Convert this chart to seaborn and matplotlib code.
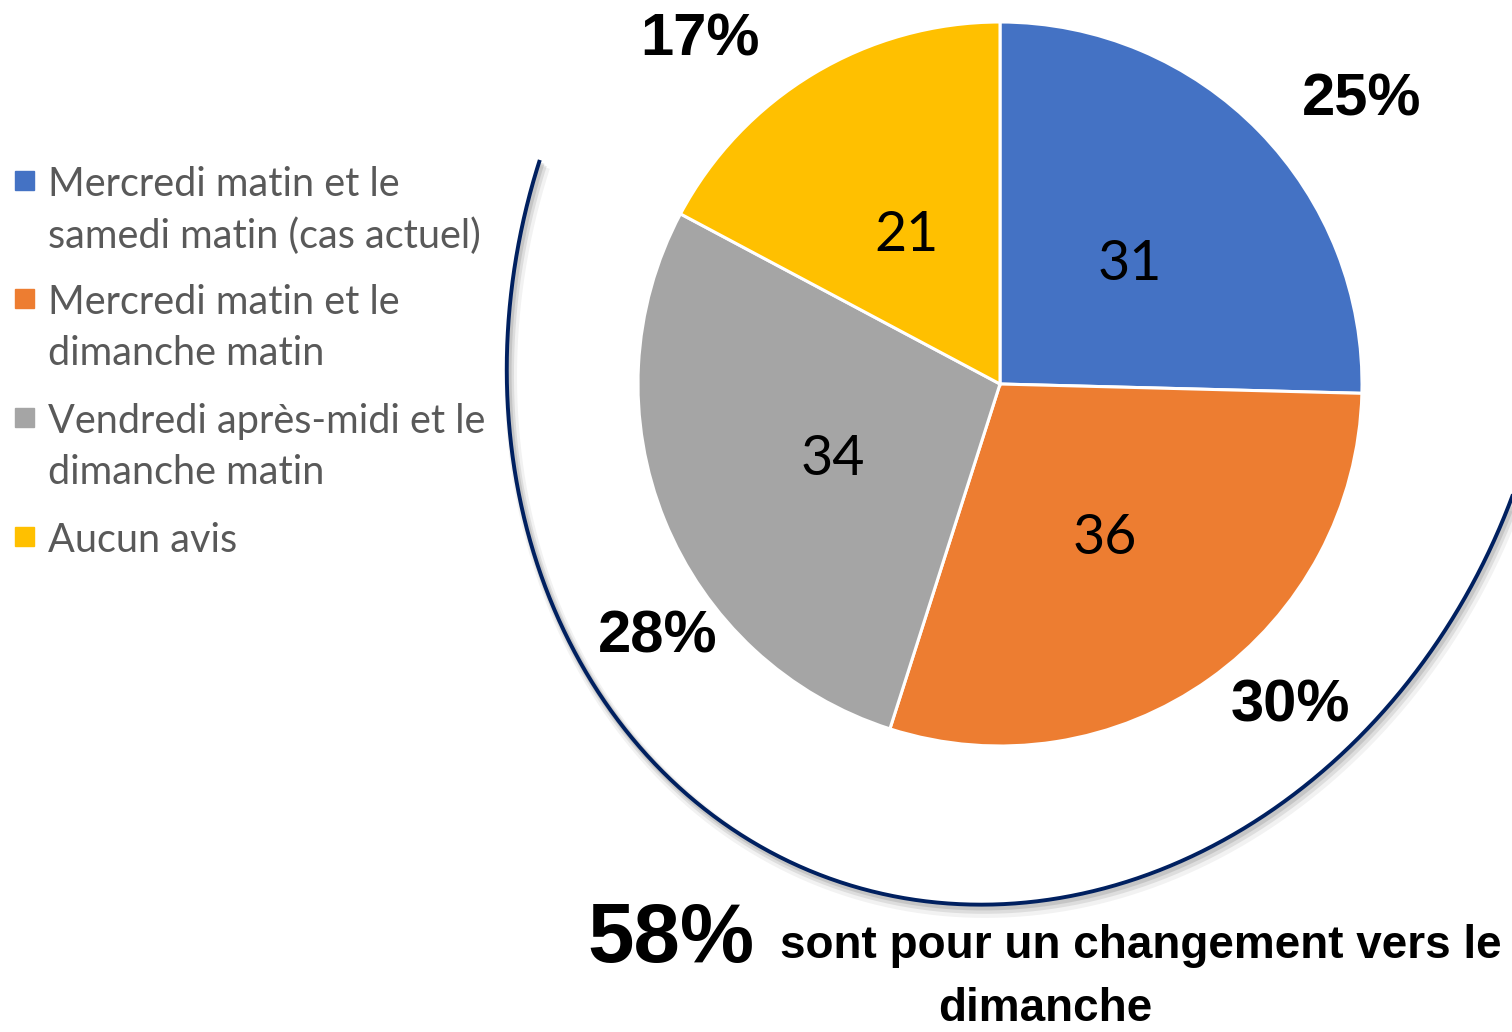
import numpy as np
import seaborn as sns
import matplotlib.pyplot as plt
from matplotlib.patches import Rectangle

# Données
categories = ["Mercredi matin et le\nsamedi matin (cas actuel)",
              "Mercredi matin et le\ndimanche matin",
              "Vendredi après-midi et le\ndimanche matin",
              "Aucun avis"]
valeurs = [31, 36, 34, 21]
couleurs = ["#4472C4", "#ED7D31", "#A5A5A5", "#FFC000"]

total = sum(valeurs)
pourcents = [round(v / total * 100) for v in valeurs]
pour_dimanche = pourcents[1] + pourcents[2]

sns.set_theme(style="white")
plt.rcParams['font.family'] = ['Lato', 'DejaVu Sans']
gras = ['Liberation Sans', 'DejaVu Sans']

fig = plt.figure(figsize=(15.12, 10.32), dpi=100)
ax = fig.add_axes([0, 0, 1, 1])

# camembert (axe y inversé -> sens horaire depuis le haut)
wedges, txts, autotxts = ax.pie(
    valeurs, colors=couleurs, startangle=270, counterclock=True,
    center=(1000, 384), radius=362,
    autopct=lambda p: f"{round(p * total / 100)}",
    pctdistance=0.5,
    wedgeprops=dict(edgecolor="white", linewidth=2.2),
    textprops=dict(fontsize=40, color="black"))
for t in autotxts:
    t.set_y(t.get_position()[1] + 7)

ax.set_xlim(0, 1512)
ax.set_ylim(1032, 0)
ax.set_aspect("equal")
ax.axis("off")

# pourcentages autour
pos_pct = [(1362, 100), (1290, 706), (658, 637), (700, 40)]
for (x, y), p in zip(pos_pct, pourcents):
    ax.text(x, y, f"{p}%", ha="center", va="center", fontsize=43,
            fontweight="bold", color="black", family=gras)

# arc elliptique avec ombre
cx, cy, a, b, th = 1031.5, 312.4, 601.0, 514.7, np.radians(-70.79)
t = np.radians(np.linspace(85, 268.3, 600))
ex = cx + a * np.cos(t) * np.cos(th) - b * np.sin(t) * np.sin(th)
ey = cy + a * np.cos(t) * np.sin(th) + b * np.sin(t) * np.cos(th)
for dx, dy, lw, al in [(4, 7, 9, 0.10), (3, 5, 6, 0.18), (2, 3, 4, 0.25)]:
    ax.plot(ex + dx, ey + dy, color="#808080", lw=lw, alpha=al,
            solid_capstyle="butt")
ax.plot(ex, ey, color="#002060", lw=2.8, solid_capstyle="butt")

# légende
y_leg = [180, 298, 417, 536]
for yy, lab, col in zip(y_leg, categories, couleurs):
    ax.add_patch(Rectangle((15, yy - 9), 19, 19, color=col))
    ax.text(48, yy - 14, lab, ha="left", va="top", fontsize=28.5, color="#595959",
            linespacing=1.47)

# texte du bas
ax.text(587, 962, f"{pour_dimanche}%", ha="left", va="baseline", fontsize=60,
        fontweight="bold", color="black", family=gras)
ax.text(780, 958, "sont pour un changement vers le", ha="left", va="baseline",
        fontsize=33, fontweight="bold", color="black", family=gras)
ax.text(1045, 1021, "dimanche", ha="center", va="baseline", fontsize=33,
        fontweight="bold", color="black", family=gras)

fig.savefig("out.png", dpi=100)
